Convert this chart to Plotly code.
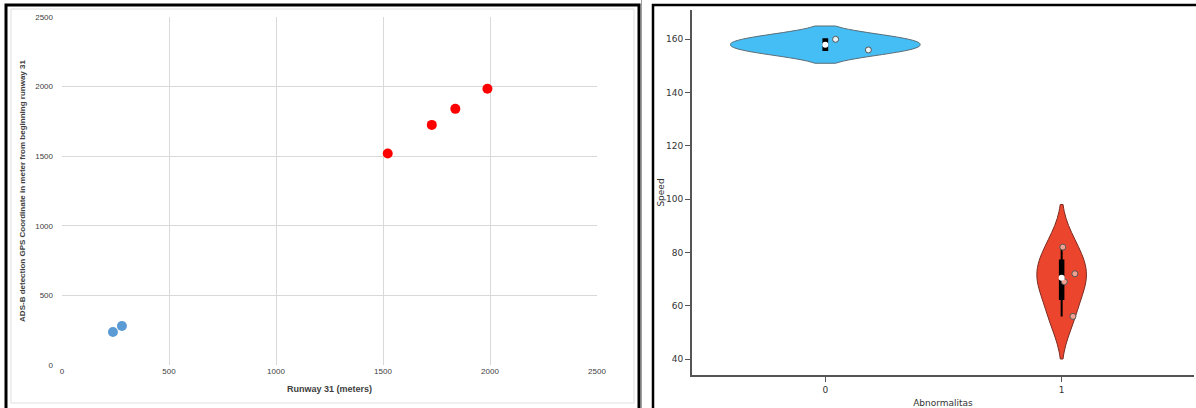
import numpy as np
import plotly.graph_objects as go

W, H = 1196, 408

# ---- Left panel data (scatter) ----
runway_blue = [238, 280]
gps_blue = [237, 280]
runway_red = [1522, 1728, 1838, 1988]
gps_red = [1520, 1725, 1840, 1985]

# ---- Right panel data (violin) ----
categories = ["0", "1"]
speed_0 = [156, 160]
speed_1 = [56, 69, 72, 82]

def px(x):
    return x / W

def py(y):
    return 1 - y / H

fig = go.Figure()

# Left scatter
fig.add_trace(go.Scatter(x=runway_blue, y=gps_blue, mode="markers",
                         marker=dict(color="#5B9BD5", size=10),
                         xaxis="x", yaxis="y", showlegend=False))
fig.add_trace(go.Scatter(x=runway_red, y=gps_red, mode="markers",
                         marker=dict(color="#FF0000", size=10),
                         xaxis="x", yaxis="y", showlegend=False))

# Right violins
vio_specs = [
    (0, speed_0, "#45BDF5", "#5a6e78", "rgba(235,245,250,1)", 0.8, 2.6, [151, 165], 0.02),
    (1, speed_1, "#EB452E", "#7a2a20", "#F4A08F", 0.21, 8.0, [40, 98], 0.07),
]
for xv, vals, fill, line, ptcol, wid, bw, span, bwid in vio_specs:
    fig.add_trace(go.Violin(
        x=[xv] * len(vals), y=vals, xaxis="x2", yaxis="y2",
        fillcolor=fill, line=dict(color=line, width=1), opacity=1,
        width=wid, scalegroup=str(xv), scalemode="width",
        bandwidth=bw, spanmode="manual", span=span, quartilemethod="inclusive",
        box=dict(visible=True, width=bwid, fillcolor="black",
                 line=dict(color="black", width=2)),
        meanline=dict(visible=False),
        points="all", pointpos=0.3, jitter=0.3,
        marker=dict(size=6, color=ptcol, line=dict(color="#555555", width=1)),
        showlegend=False, hoverinfo="y"))
    fig.add_trace(go.Scatter(x=[xv], y=[float(np.median(vals))], mode="markers",
                             marker=dict(color="white", size=6),
                             xaxis="x2", yaxis="y2", showlegend=False))

tickfont_l = dict(family="Liberation Sans", size=8, color="#404040")
tickfont_r = dict(family="DejaVu Sans", size=9, color="#333333")

fig.update_layout(
    width=W, height=H, margin=dict(l=0, r=0, t=0, b=0, autoexpand=False),
    paper_bgcolor="white", plot_bgcolor="white",
    xaxis=dict(domain=[px(62), px(597)], range=[0, 2500], dtick=500,
               showgrid=True, gridcolor="#D9D9D9", gridwidth=1, zeroline=False,
               showline=False, ticks="", tickfont=tickfont_l, automargin=False,
               title=dict(text="<b>Runway 31 (meters)</b>",
                          font=dict(family="Liberation Sans", size=9, color="#404040"),
                          standoff=10),
               anchor="y", fixedrange=True),
    yaxis=dict(domain=[py(365), py(17)], range=[0, 2500], dtick=500,
               showgrid=True, gridcolor="#D9D9D9", gridwidth=1, zeroline=False,
               showline=False, ticks="", tickfont=tickfont_l, ticklabelstandoff=8,
               automargin=False,
               title=dict(text="<b>ADS-B detection GPS Coordinate in meter from beginning runway 31</b>",
                          font=dict(family="Liberation Sans", size=8, color="#404040"),
                          standoff=8),
               anchor="x", fixedrange=True),
    xaxis2=dict(domain=[px(692), px(1194)], range=[-0.564, 1.56],
                tickvals=[0, 1], ticktext=categories, showgrid=False, zeroline=False,
                showline=True, linecolor="#555555", linewidth=2, automargin=False,
                ticks="outside", ticklen=5, tickcolor="#555555", tickfont=tickfont_r,
                title=dict(text="Abnormalitas",
                           font=dict(family="DejaVu Sans", size=9, color="#333333"),
                           standoff=6),
                anchor="y2", fixedrange=True),
    yaxis2=dict(domain=[py(375), py(10)], range=[34, 171],
                tickvals=[40, 60, 80, 100, 120, 140, 160], showgrid=False, zeroline=False,
                showline=True, linecolor="#555555", linewidth=2, automargin=False,
                ticks="outside", ticklen=5, tickcolor="#555555", tickfont=tickfont_r,
                title=dict(text="Speed",
                           font=dict(family="DejaVu Sans", size=9, color="#333333"),
                           standoff=0),
                anchor="x2", fixedrange=True),
    violinmode="overlay",
)

shapes = [
    dict(type="rect", xref="paper", yref="paper", x0=px(6), x1=px(639), y0=py(420), y1=py(5),
         line=dict(color="black", width=3), fillcolor="rgba(0,0,0,0)"),
    dict(type="rect", xref="paper", yref="paper", x0=px(11), x1=px(634), y0=py(403), y1=py(9),
         line=dict(color="#E0E0E0", width=1), fillcolor="rgba(0,0,0,0)"),
    dict(type="rect", xref="paper", yref="paper", x0=px(653), x1=px(1210), y0=py(420), y1=py(5),
         line=dict(color="black", width=2.5), fillcolor="rgba(0,0,0,0)"),
    dict(type="line", xref="paper", yref="paper", x0=px(641.5), x1=px(641.5), y0=0, y1=1,
         line=dict(color="#A0A0A0", width=1)),
]
fig.update_layout(shapes=shapes)

fig.write_html("out.html", config={"displayModeBar": False},
               post_script="document.body.style.margin='0';document.body.style.overflow='hidden';")
